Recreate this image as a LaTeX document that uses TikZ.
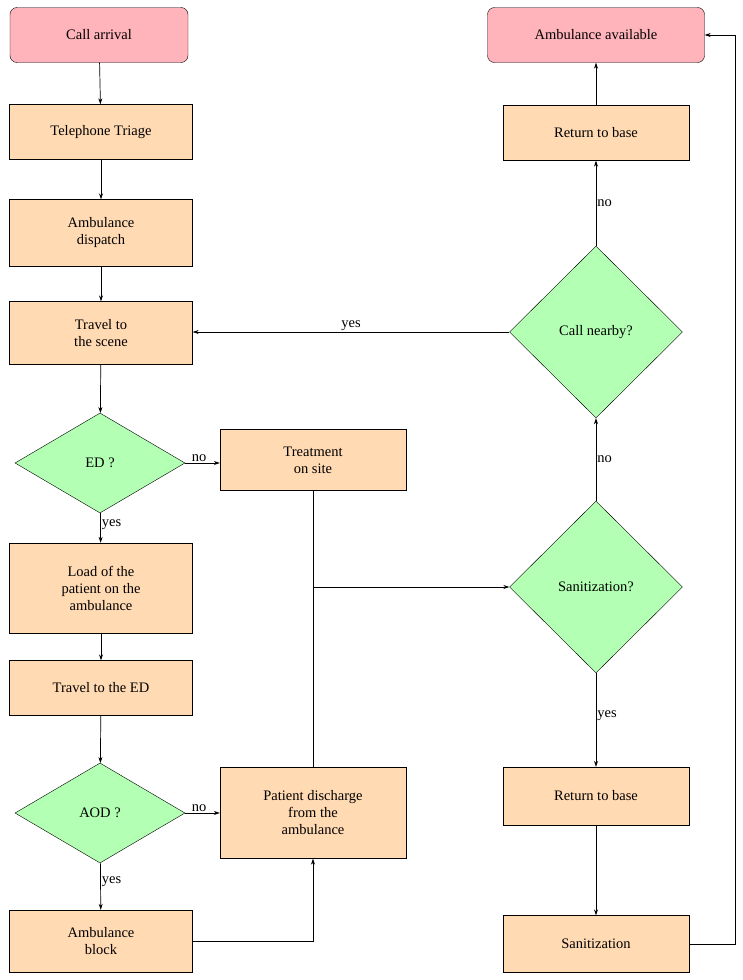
\documentclass[tikz,border=0pt]{standalone}
\usepackage{fontspec}
\setmainfont{Liberation Serif}
\usetikzlibrary{shapes.geometric,arrows.meta}
\definecolor{pinkc}{RGB}{255,179,186}
\definecolor{peach}{RGB}{255,218,179}
\definecolor{greenc}{RGB}{179,255,179}
\begin{document}
\begin{tikzpicture}[x=1pt,y=-1pt,font=\fontsize{14.5}{17}\selectfont,
  proc/.style={draw,fill=peach,align=center,minimum width=183pt,inner sep=0pt},
  term/.style={draw,fill=pinkc,rounded corners=7pt,align=center,minimum height=55pt,inner sep=0pt},
  dec/.style={draw,fill=greenc,diamond,aspect=1,inner sep=0pt},
  arr/.style={-{Stealth[length=6pt,width=4pt]},line width=0.7pt},
  ln/.style={line width=0.7pt},
  lab/.style={inner sep=1pt}]
\useasboundingbox (0,0) rectangle (743,980);
\node[term,minimum width=178pt] (ca) at (99,35) {Call arrival};
\node[proc,minimum height=55pt] (tt) at (101,132) {Telephone Triage};
\node[proc,minimum height=67pt] (ad) at (101,233) {Ambulance\\dispatch};
\node[proc,minimum height=63pt] (ts) at (101,333) {Travel to\\the scene};
\node[dec,minimum width=170pt,minimum height=100pt,aspect=1.7] (ed) at (100,463) {ED ?};
\node[proc,minimum width=186pt,minimum height=61pt] (tos) at (313,460) {Treatment\\on site};
\node[proc,minimum height=90pt] (lp) at (101,588) {Load of the\\patient on the\\ambulance};
\node[proc,minimum height=55pt] (ted) at (101,688) {Travel to the ED};
\node[dec,minimum width=170pt,minimum height=100pt,aspect=1.7] (aod) at (100,813) {AOD ?};
\node[proc,minimum width=186pt,minimum height=91pt] (pd) at (313,813) {Patient discharge\\from the\\ambulance};
\node[proc,minimum height=62pt] (ab) at (101,941) {Ambulance\\block};
\node[term,minimum width=217pt] (av) at (596,35) {Ambulance available};
\node[proc,minimum width=186pt,minimum height=55pt] (rb1) at (596,133) {Return to base};
\node[dec,minimum width=173pt,minimum height=172pt] (cn) at (596,332) {Call nearby?};
\node[dec,minimum width=173pt,minimum height=172pt] (sq) at (596,587) {Sanitization?};
\node[proc,minimum width=186pt,minimum height=58pt] (rb2) at (596,796) {Return to base};
\node[proc,minimum width=186pt,minimum height=57pt] (san) at (596,944) {Sanitization};
\coordinate (j) at (313,587);
\coordinate (r1) at (735,944);
\coordinate (r2) at (735,35);
\coordinate (b1) at (313,941);
\draw[arr] (ca) -- (tt);
\draw[arr] (tt) -- (ad);
\draw[arr] (ad) -- (ts);
\draw[arr] (ts) -- (ed);
\draw[arr] (ed) -- node[lab,above,pos=0.4]{no} (ed.east -| tos.west);
\draw[arr] (ed) -- node[lab,right,pos=0.4]{yes} (lp);
\draw[arr] (lp) -- (ted);
\draw[arr] (ted) -- (aod);
\draw[arr] (aod) -- node[lab,above,pos=0.4]{no} (aod.east -| pd.west);
\draw[arr] (aod) -- node[lab,right,pos=0.4]{yes} (ab);
\draw[arr] (ab.east) -- (b1) -- (pd.south);
\draw[ln] (tos.south) -- (pd.north);
\draw[arr] (j) -- (sq.west);
\draw[arr] (sq) -- node[lab,right,pos=0.45]{yes} (rb2);
\draw[arr] (rb2) -- (san);
\draw[arr] (san.east) -- (r1) -- (r2) -- (av.east);
\draw[arr] (sq) -- node[lab,right,pos=0.5]{no} (cn);
\draw[arr] (cn) -- node[lab,right,pos=0.5]{no} (rb1);
\draw[arr] (rb1) -- (av);
\draw[arr] (cn.west) -- node[lab,above,pos=0.5]{yes} (cn.west -| ts.east);
\end{tikzpicture}
\end{document}
